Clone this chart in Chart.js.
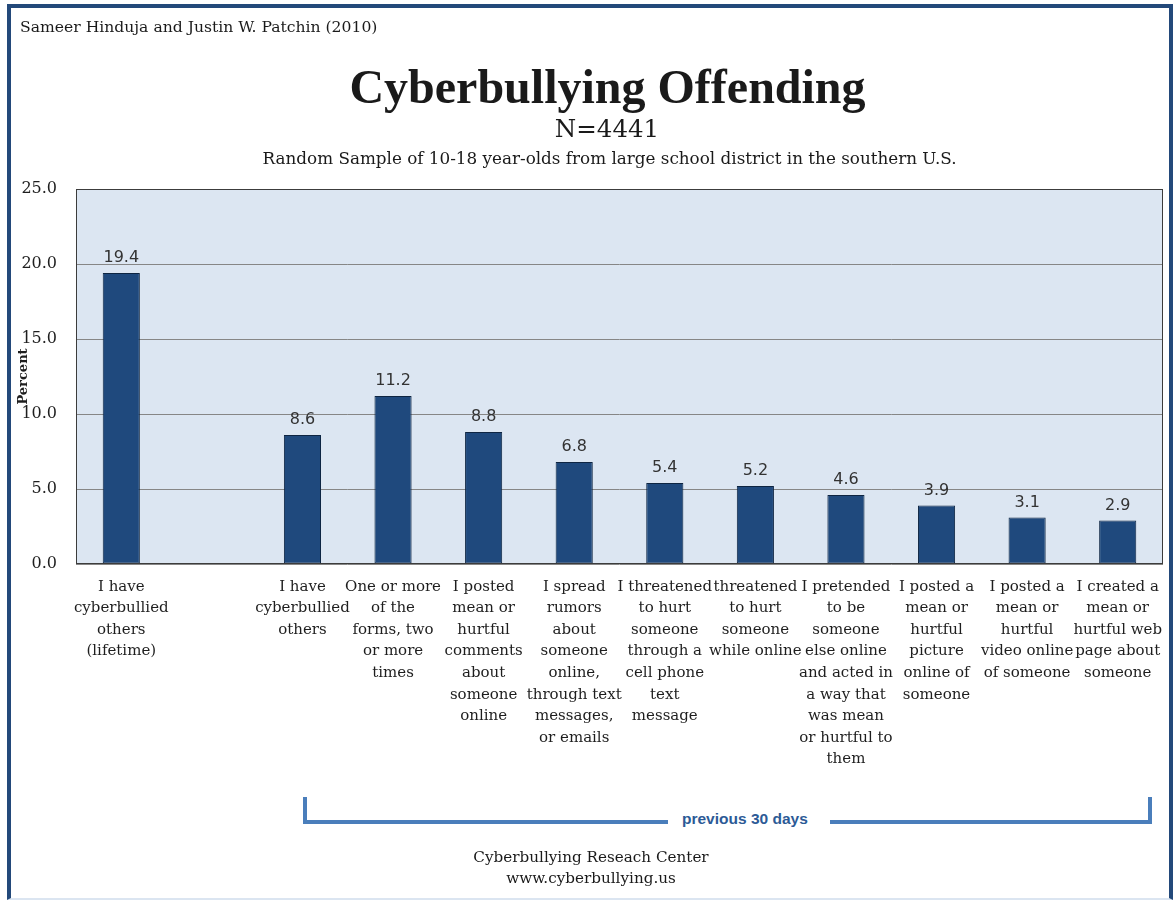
<!DOCTYPE html>
<html>
<head>
<meta charset="utf-8">
<title>Cyberbullying Offending</title>
<script src="https://cdn.jsdelivr.net/npm/chart.js@4.4.1/dist/chart.umd.min.js"></script>
<style>
  body { margin: 0; background: #ffffff; }
  #page { position: relative; width: 1175px; height: 904px; overflow: hidden; background: #ffffff; }
  #frame {
    position: absolute; left: 7px; top: 4px; width: 1158px; height: 890px;
    border: 4px solid #23497a; border-bottom: 2px solid #dbe5f1;
  }
  .txt { position: absolute; color: #1a1a1a; white-space: nowrap; }
  #autor { left: 20px; top: 17px; font: 15.6px "DejaVu Serif", serif; line-height: 20px; }
  #titulo { left: 0; width: 1215px; top: 60px; text-align: center; font: bold 48px "Liberation Serif", serif; line-height: 54px; }
  #amostraN { left: 0; width: 1214px; top: 115px; text-align: center; font: 24.5px "DejaVu Serif", serif; line-height: 28px; }
  #subtitulo { left: 0; width: 1219px; top: 148px; text-align: center; font: 16.8px "DejaVu Serif", serif; line-height: 20px; }
  #chave {
    position: absolute; left: 303px; top: 797px; width: 841px; height: 23px;
    border: 4px solid #4a7ebb; border-top: none;
  }
  #chave span {
    position: absolute; left: 361px; top: 13px; padding: 0 22px 0 14px; background: #ffffff;
    font: bold 15.5px "Liberation Sans", sans-serif; color: #2c5a96; line-height: 18px;
  }
  #rodape { left: 0; width: 1182px; top: 847px; text-align: center; font: 15.2px "DejaVu Serif", serif; line-height: 21px; }
</style>
</head>
<body>
<div id="page">
  <div id="frame"></div>
  <canvas id="grafico" width="1175" height="904"></canvas>
  <div class="txt" id="autor">Sameer Hinduja and Justin W. Patchin (2010)</div>
  <div class="txt" id="titulo">Cyberbullying Offending</div>
  <div class="txt" id="amostraN">N=4441</div>
  <div class="txt" id="subtitulo">Random Sample of 10-18 year-olds from large school district in the southern U.S.</div>
  <div id="chave"><span>previous 30 days</span></div>
  <div class="txt" id="rodape">Cyberbullying Reseach Center<br>www.cyberbullying.us</div>
</div>

<script>
const categorias = [
  ["I have", "cyberbullied", "others", "(lifetime)"],
  "",
  ["I have", "cyberbullied", "others"],
  ["One or more", "of the", "forms, two", "or more", "times"],
  ["I posted", "mean or", "hurtful", "comments", "about", "someone", "online"],
  ["I spread", "rumors", "about", "someone", "online,", "through text", "messages,", "or emails"],
  ["I threatened", "to hurt", "someone", "through a", "cell phone", "text", "message"],
  ["threatened", "to hurt", "someone", "while online"],
  ["I pretended", "to be", "someone", "else online", "and acted in", "a way that", "was mean", "or hurtful to", "them"],
  ["I posted a", "mean or", "hurtful", "picture", "online of", "someone"],
  ["I posted a", "mean or", "hurtful", "video online", "of someone"],
  ["I created a", "mean or", "hurtful web", "page about", "someone"],
];

const percentuais = [19.4, null, 8.6, 11.2, 8.8, 6.8, 5.4, 5.2, 4.6, 3.9, 3.1, 2.9];

const eixoY = { min: 0, max: 25, passo: 5 };

// fundo azul claro e moldura da area do grafico
const fundoArea = {
  id: "fundoArea",
  beforeDraw(chart) {
    const { ctx, chartArea } = chart;
    ctx.save();
    ctx.fillStyle = "#dce6f2";
    ctx.fillRect(chartArea.left, chartArea.top, chartArea.width, chartArea.height);
    ctx.restore();
  },
  afterDraw(chart) {
    const { ctx, chartArea } = chart;
    ctx.save();
    ctx.strokeStyle = "#3c3c3c";
    ctx.lineWidth = 1;
    ctx.strokeRect(chartArea.left + 0.5, chartArea.top + 0.5, chartArea.width - 1, chartArea.height - 1);
    ctx.restore();
  },
};

// rotulos de valor em cima das barras
const rotulosValor = {
  id: "rotulosValor",
  afterDatasetsDraw(chart) {
    const { ctx } = chart;
    const meta = chart.getDatasetMeta(0);
    ctx.save();
    ctx.font = '16px "DejaVu Sans", sans-serif';
    ctx.fillStyle = "#333333";
    ctx.textAlign = "center";
    ctx.textBaseline = "alphabetic";
    meta.data.forEach((barra, i) => {
      const valor = percentuais[i];
      if (valor == null) return;
      ctx.fillText(valor.toFixed(1), barra.x, barra.y - 11);
    });
    ctx.restore();
  },
};

new Chart(document.getElementById("grafico"), {
  type: "bar",
  data: {
    labels: categorias,
    datasets: [
      {
        label: "Percent",
        data: percentuais,
        backgroundColor: "#1f497d",
        borderColor: "#0e2542",
        borderWidth: 1,
        borderSkipped: false,
        categoryPercentage: 1,
        barPercentage: 0.41,
      },
    ],
  },
  options: {
    responsive: false,
    animation: false,
    layout: {
      padding: { top: 189, left: 16, right: 12, bottom: 100 },
    },
    plugins: {
      legend: { display: false },
      tooltip: { enabled: false },
    },
    scales: {
      x: {
        afterFit: (escala) => {
          escala.height = 240;
        },
        grid: { display: false, drawTicks: false },
        border: { display: false },
        ticks: {
          autoSkip: false,
          maxRotation: 0,
          minRotation: 0,
          padding: 12,
          color: "#1e1e1e",
          font: { family: "DejaVu Serif", size: 15, lineHeight: 1.44 },
        },
      },
      y: {
        min: eixoY.min,
        max: eixoY.max,
        afterFit: (escala) => {
          escala.width = 60;
        },
        grid: { color: "#868686", lineWidth: 1, drawTicks: false },
        border: { display: false },
        title: {
          display: true,
          text: "Percent",
          padding: 0,
          color: "#1e1e1e",
          font: { family: "DejaVu Serif", size: 13, weight: "bold" },
        },
        ticks: {
          stepSize: eixoY.passo,
          padding: 19,
          color: "#1e1e1e",
          font: { family: "DejaVu Serif", size: 16 },
          callback: (v) => Number(v).toFixed(1),
        },
      },
    },
  },
  plugins: [fundoArea, rotulosValor],
});
</script>
</body>
</html>
